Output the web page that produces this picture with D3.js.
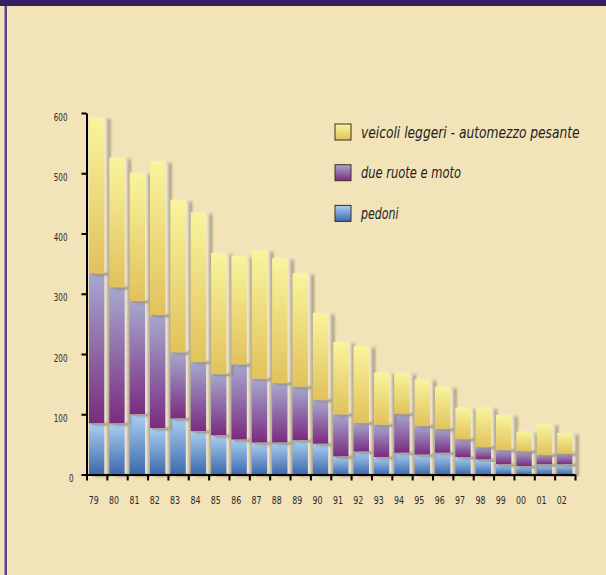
<!DOCTYPE html>
<html>
<head>
<meta charset="utf-8">
<script src="https://cdn.jsdelivr.net/npm/d3@7"></script>
<style>
  body { margin: 0; background: #f2e3b9; }
  svg { display: block; }
  .axis path, .axis line { stroke: #000; stroke-width: 2px; }
  .axis text { font-family: "DejaVu Sans Condensed", sans-serif; fill: #2a2a2a; }
</style>
</head>
<body>
<div id="chart"></div>
<script>
// years 1979 - 2002
var years = ["79", "80", "81", "82", "83", "84", "85", "86", "87", "88", "89", "90",
             "91", "92", "93", "94", "95", "96", "97", "98", "99", "00", "01", "02"];
var pedoni = [85, 85, 100, 77, 93, 72, 65, 58, 53, 53, 57, 51, 30, 38, 29, 36, 33, 36, 29, 25, 17, 14, 17, 17];
var dueRuote = [249, 226, 188, 188, 110, 115, 102, 125, 106, 99, 89, 73, 70, 48, 54, 65, 48, 40, 30, 21, 24, 25, 16, 18];
var veicoli = [259, 215, 213, 255, 253, 248, 201, 180, 213, 207, 188, 144, 120, 127, 86, 68, 77, 70, 52, 65, 58, 32, 51, 34];
var seriesNames = ["pedoni", "due ruote e moto", "veicoli leggeri - automezzo pesante"];
var yTicks = [0, 100, 200, 300, 400, 500, 600];

// squeeze a text horizontally (the original uses a narrow font)
function narrow(sel, perChar) {
    sel.each(function () {
        var t = d3.select(this);
        t.attr("textLength", t.text().length * perChar).attr("lengthAdjust", "spacingAndGlyphs");
    });
}

function init() {
    var w = 606, h = 575;

    var rows = years.map(function (y, i) {
        return {year: y, pedoni: pedoni[i], due: dueRuote[i], veicoli: veicoli[i]};
    });
    var keys = ["pedoni", "due", "veicoli"];
    var stacked = d3.stack().keys(keys)(rows);

    var svg = d3.select("#chart").append("svg")
        .attr("width", w)
        .attr("height", h);

    // frame
    svg.append("rect").attr("width", w).attr("height", h).attr("fill", "#f2e3b9");
    svg.append("rect").attr("width", w).attr("height", 6).attr("fill", "#361f62");
    svg.append("rect").attr("x", 4.5).attr("y", 6).attr("width", 2.5).attr("height", h - 6).attr("fill", "#5b4490");

    var defs = svg.append("defs");
    var grads = {
        pedoni: ["#aad0f2", "#3d68ad"],
        due: ["#a6a9cf", "#7a2b80"],
        veicoli: ["#f9f49d", "#e1c25c"]
    };
    Object.keys(grads).forEach(function (k) {
        var g = defs.append("linearGradient").attr("id", "g-" + k)
            .attr("x1", 0).attr("y1", 0).attr("x2", 0).attr("y2", 1);
        g.append("stop").attr("offset", "0%").attr("stop-color", grads[k][0]);
        g.append("stop").attr("offset", "100%").attr("stop-color", grads[k][1]);
    });

    var f = defs.append("filter").attr("id", "shadow")
        .attr("x", "-30%").attr("y", "-10%").attr("width", "180%").attr("height", "130%");
    f.append("feDropShadow").attr("dx", 3).attr("dy", 0).attr("stdDeviation", 1.8)
        .attr("flood-color", "#fcf3dc").attr("flood-opacity", 0.9);
    f.append("feDropShadow").attr("dx", 2.5).attr("dy", 1.5).attr("stdDeviation", 0.7)
        .attr("flood-color", "#5f5038").attr("flood-opacity", 0.85);

    // scales
    var x = d3.scaleBand().domain(years).range([86.5, 575]).paddingInner(0).paddingOuter(0);
    var xIdx = d3.scaleLinear().domain([0, years.length]).range([86.5, 575]);
    var y = d3.scaleLinear().domain([0, 600]).range([474.5, 113]);

    var barW = x.bandwidth() * 0.76;
    var off = (x.bandwidth() - barW) / 2;

    // bars
    svg.append("g").selectAll("g")
        .data(stacked)
        .enter().append("g")
        .attr("fill", function (s) { return "url(#g-" + s.key + ")"; })
        .selectAll("rect")
        .data(function (s) { return s; })
        .enter().append("rect")
        .attr("x", function (d) { return x(d.data.year) + off; })
        .attr("y", function (d) { return y(d[1]); })
        .attr("width", barW)
        .attr("height", function (d) { return y(d[0]) - y(d[1]); })
        .attr("filter", "url(#shadow)");

    // y axis
    var yAxis = svg.append("g").attr("class", "axis")
        .attr("transform", "translate(86.5,0)")
        .call(d3.axisLeft(y).tickValues(yTicks).tickSize(5).tickSizeOuter(0).tickPadding(14));
    yAxis.selectAll("text").attr("font-size", "10px").attr("dy", "0.71em")
        .call(narrow, 4.6);
    yAxis.selectAll("text").filter(function (d) { return d === 0; }).attr("dx", 6);

    // x axis: ticks between the bars, labels under them
    svg.append("g").attr("class", "axis")
        .attr("transform", "translate(0,474.5)")
        .call(d3.axisBottom(xIdx).ticks(years.length).tickFormat("").tickSize(6).tickSizeOuter(0));

    var xLab = svg.append("g").attr("class", "axis")
        .attr("transform", "translate(-3,474.5)")
        .call(d3.axisBottom(x).tickSize(0).tickPadding(22));
    xLab.select(".domain").remove();
    xLab.selectAll("text").attr("font-size", "11px").call(narrow, 5);

    // legend
    var legend = svg.append("g").selectAll("g")
        .data(["veicoli", "due", "pedoni"])
        .enter().append("g")
        .attr("transform", function (d, i) { return "translate(335," + (124 + i * 40.7) + ")"; });
    legend.append("rect")
        .attr("width", 16).attr("height", 16)
        .attr("fill", function (d) { return "url(#g-" + d + ")"; })
        .attr("stroke", "#3a3020").attr("stroke-width", 1);
    legend.append("text")
        .attr("font-family", "'DejaVu Sans Condensed', sans-serif")
        .attr("font-style", "italic")
        .attr("font-size", "16px")
        .attr("fill", "#222")
        .text(function (d) { return seriesNames[keys.indexOf(d)]; })
        .attr("transform", function () {
            var k = this.textContent.length * 6.25 / this.getComputedTextLength();
            return "translate(26,13.5) scale(" + k + ",1)";
        });
}

window.onload = init;
</script>
</body>
</html>
